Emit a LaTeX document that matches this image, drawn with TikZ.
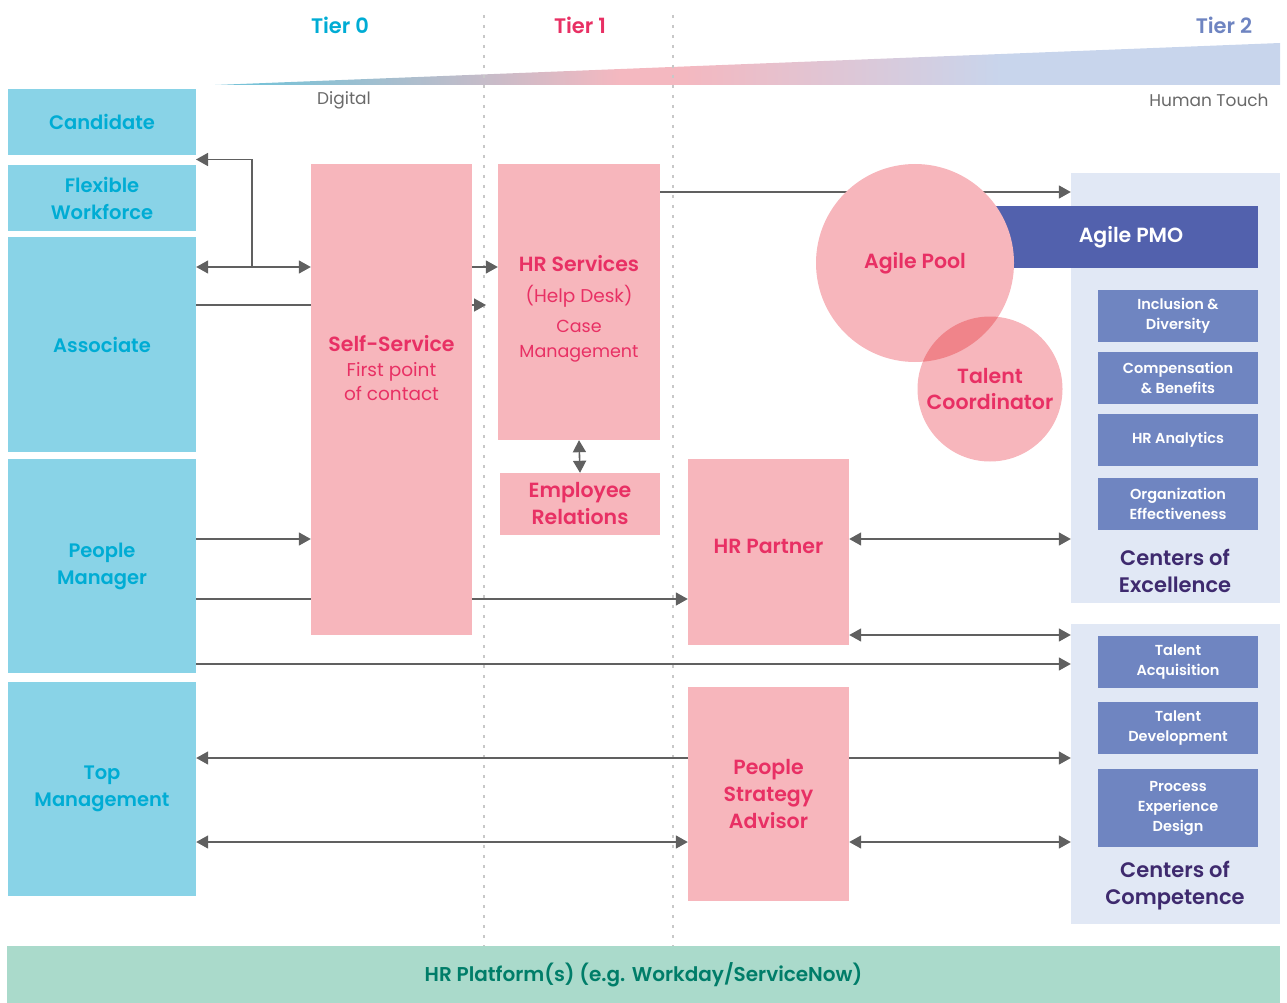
\documentclass[tikz,border=0pt]{standalone}
\usepackage{fontspec}
\setmainfont{Poppins}[BoldFont={Poppins SemiBold}]
\usetikzlibrary{arrows.meta, positioning}
\definecolor{cyanfill}{RGB}{137,211,231}
\definecolor{cyantext}{RGB}{0,172,212}
\definecolor{pinkfill}{RGB}{247,182,188}
\definecolor{pinktext}{RGB}{232,48,100}
\definecolor{pinkdeep}{RGB}{240,132,138}
\definecolor{pmoblue}{RGB}{82,97,173}
\definecolor{subblue}{RGB}{111,133,193}
\definecolor{panelblue}{RGB}{225,232,245}
\definecolor{purpletext}{RGB}{62,42,110}
\definecolor{platgreen}{RGB}{170,218,203}
\definecolor{plattext}{RGB}{0,125,105}
\definecolor{arrowgray}{RGB}{96,96,96}
\definecolor{dotgray}{RGB}{200,200,200}
\definecolor{labelgray}{RGB}{105,105,105}
\definecolor{tierblue}{RGB}{110,132,193}
\definecolor{wedgecyan}{RGB}{120,194,215}
\definecolor{wedgepink}{RGB}{244,184,192}
\definecolor{wedgeblue}{RGB}{200,213,236}
% path box is mapped onto 25bp..75bp
\pgfdeclarehorizontalshading{tiershade}{100bp}{color(0bp)=(wedgecyan); color(27bp)=(wedgecyan); color(44bp)=(wedgepink); color(47bp)=(wedgepink); color(62bp)=(wedgeblue); color(100bp)=(wedgeblue)}
\pgfdeclarelayer{background}
\pgfsetlayers{background,main}

\tikzset{
  gtip/.tip={Triangle[length=12pt,width=13pt]},
  conn/.style={draw=arrowgray, line width=1.6pt, -gtip},
  conn2/.style={draw=arrowgray, line width=1.6pt, gtip-gtip},
  leftbox/.style={fill=cyanfill, text=cyantext, minimum width=188, inner sep=0pt, align=center,
    font=\bfseries\fontsize{19.5}{27}\selectfont},
  pinkbox/.style={fill=pinkfill, text=pinktext, minimum width=161, inner sep=0pt, align=center,
    font=\bfseries\fontsize{20.5}{27}\selectfont},
  pinklabel/.style={text=pinktext, align=center, inner sep=0pt, font=\fontsize{18.5}{24.5}\selectfont},
  subbox/.style={fill=subblue, text=white, minimum width=160, minimum height=52, inner sep=0pt,
    align=center, font=\bfseries\fontsize{14.5}{20}\selectfont},
  panel/.style={fill=panelblue, minimum width=209, inner sep=0pt},
  paneltext/.style={text=purpletext, align=center, font=\bfseries\fontsize{21}{27}\selectfont},
  tier/.style={font=\bfseries\fontsize{21}{24}\selectfont},
  scalelabel/.style={text=labelgray, font=\fontsize{17}{22}\selectfont},
  pool/.style={circle, fill=pinkfill, text=pinktext, inner sep=0pt, align=center,
    font=\bfseries\fontsize{20.5}{26}\selectfont},
}

\begin{document}
\begin{tikzpicture}[x=1pt, y=-1pt]
  \useasboundingbox (0,0) rectangle (1287,1003);

  % digital to human touch scale
  \begin{pgfonlayer}{background}
    \shade[shading=tiershade] (215,85) -- (1280,43) -- (1280,85) -- cycle;
    \foreach \xx in {484, 673}
      \draw[dotgray, line width=2pt, dash pattern=on 3pt off 7pt] (\xx,15) -- (\xx,946);
  \end{pgfonlayer}
  \node[tier, text=cyantext] (t0) at (340,25) {Tier 0};
  \node[tier, text=pinktext] (t1) at (580,25) {Tier 1};
  \node[tier, text=tierblue] (t2) at (1224,25) {Tier 2};
  \node[scalelabel] (dig) at (344,100) {Digital};
  \node[scalelabel] (touch) at (1209,100) {Human Touch};

  % customers
  \node[leftbox, minimum height=66] (cand) at (102,122) {Candidate};
  \node[leftbox, minimum height=66] (flex) at (102,198) {Flexible\\Workforce};
  \node[leftbox, minimum height=215] (assoc) at (102,344.5) {Associate};
  \node[leftbox, minimum height=214] (pm) at (102,566) {People\\Manager};
  \node[leftbox, minimum height=214] (top) at (102,789) {Top\\Management};

  % tier 0 and tier 1
  \node[pinkbox, minimum height=471, label={[pinklabel, yshift=31]center:{\textbf{\fontsize{20.5}{24}\selectfont Self-Service}\\First point\\of contact}}] (self) at (391.5,399.5) {};
  \node[pinkbox, minimum width=162, minimum height=276, label={[pinklabel, yshift=-7]center:{\textbf{\fontsize{20.5}{24}\selectfont HR Services}\\[6pt](Help Desk)\\[6pt]{\fontsize{17.5}{24}\selectfont Case}\\{\fontsize{17.5}{24}\selectfont Management}}}] (hrs) at (579,302) {};
  \node[pinkbox, minimum width=160, minimum height=62] (er) at (580,504) {Employee\\Relations};
  \node[pinkbox, minimum height=186, label={[pinktext, yshift=6, inner sep=0pt]center:{\textbf{\fontsize{20.5}{24}\selectfont HR Partner}}}] (hrp) at (768.5,552) {};
  \node[pinkbox, minimum height=214] (psa) at (768.5,794) {People\\Strategy\\Advisor};

  % tier 2
  \node[panel, minimum height=430] (coe) at (1175.5,388) {};
  \node[panel, minimum height=300] (coc) at (1175.5,774) {};
  \node[fill=pmoblue, text=white, minimum width=263, minimum height=62, inner sep=0pt,
    font=\bfseries\fontsize{20.5}{24}\selectfont] (pmo) at (1126.5,237) {\hspace{9pt}Agile PMO};
  \node[subbox] (incl) at (1178,316) {Inclusion \&\\Diversity};
  \node[subbox] (comp) at (1178,378) {Compensation\\\& Benefits};
  \node[subbox] (anal) at (1178,440) {HR Analytics};
  \node[subbox] (org) at (1178,504) {Organization\\Effectiveness};
  \node[paneltext] (coetxt) at (1175,571) {Centers of\\Excellence};
  \node[subbox] (acq) at (1178,662) {Talent\\Acquisition};
  \node[subbox] (dev) at (1178,728) {Talent\\Development};
  \node[subbox, minimum height=78] (proc) at (1178,808) {Process\\Experience\\Design};
  \node[paneltext] (coctxt) at (1175,886) {Centers of\\Competence};

  \node[pool, minimum size=198] (agile) at (915,263) {Agile Pool};
  \node[pool, minimum size=145] (tc) at (990,389) {Talent\\Coordinator};
  \begin{scope}
    \clip (agile.center) circle (99);
    \fill[pinkdeep] (tc.center) circle (72.5);
  \end{scope}

  \node[fill=platgreen, text=plattext, minimum width=1273, minimum height=57, inner sep=0pt,
    font=\bfseries\fontsize{20}{24}\selectfont] (plat) at (643.5,974.5) {HR Platform(s) (e.g. Workday/ServiceNow)};

  % connectors
  \coordinate (jn) at (252,267);
  \coordinate (gap) at (196,159.5);
  \coordinate (ssend) at (486,305);
  \draw[conn2] (assoc.east |- 0,267) -- (self.west |- 0,267);
  \draw[conn] (jn) |- (gap);
  \draw[conn] (self.east |- 0,267) -- (hrs.west |- 0,267);
  \draw[conn2] (hrs.south) -- (er.north);
  \draw[conn] (pm.east |- 0,539) -- (self.west |- 0,539);
  \draw[conn] (pm.east |- 0,664) -- (coc.west |- 0,664);
  \draw[conn2] (hrp.east |- 0,539) -- (coe.west |- 0,539);
  \draw[conn2] (hrp.east |- 0,635) -- (coc.west |- 0,635);
  \draw[conn2] (top.east |- 0,842) -- (psa.west |- 0,842);
  \draw[conn2] (psa.east |- 0,842) -- (coc.west |- 0,842);
  \begin{pgfonlayer}{background}
    \draw[conn] (assoc.east |- 0,305) -- (ssend);
    \draw[conn] (pm.east |- 0,599) -- (hrp.west |- 0,599);
    \draw[conn2] (top.east |- 0,758) -- (coc.west |- 0,758);
    \draw[conn] (hrs.east |- 0,192) -- (coe.west |- 0,192);
  \end{pgfonlayer}
\end{tikzpicture}
\end{document}
